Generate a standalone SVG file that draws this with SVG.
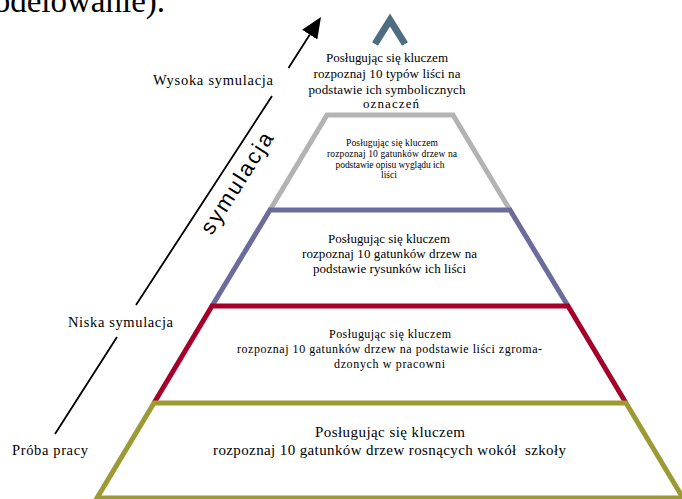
<svg xmlns="http://www.w3.org/2000/svg" width="682" height="499" viewBox="0 0 682 499">
<style>
  .serif { font-family: "Liberation Serif", "Times New Roman", serif; fill: #000; }
  .lbl { font-size: 14.5px; }
  .mid { text-anchor: middle; }
  .tier { fill: none; stroke-width: 5; stroke-linejoin: miter; stroke-linecap: butt; }
  .t13 { font-size: 13px; }
  .t10 { font-size: 9.5px; }
  .t12 { font-size: 12px; }
  .t15 { font-size: 15px; }
</style>
<defs>
  <marker id="arrowhead" markerUnits="userSpaceOnUse" markerWidth="22" markerHeight="18" viewBox="0 0 22 18" refX="0" refY="9" orient="auto">
    <path d="M0,0 L21,9 L0,18 z" fill="#000"/>
  </marker>
</defs>
<rect width="682" height="499" fill="#fff"/>

<g id="title">
  <text class="serif" x="-32" y="12" font-size="33">modelowanie).</text>
</g>

<g id="connectors">
  <path d="M55,434 L117,337 M136,305 L272,96 M288.5,68 L309.7,34.7" fill="none" stroke="#000" stroke-width="1.8" marker-end="url(#arrowhead)"/>
</g>

<g id="label-symulacja">
  <text x="0" y="0" transform="translate(243,187) rotate(-57.5)" font-family="'Liberation Sans', Arial, sans-serif" font-size="22" text-anchor="middle" textLength="116" lengthAdjust="spacing">symulacja</text>
</g>
<g id="label-wysoka">
  <text class="serif lbl" x="153" y="85" textLength="120" lengthAdjust="spacing">Wysoka symulacja</text>
</g>
<g id="label-niska">
  <text class="serif lbl" x="68" y="327" textLength="105" lengthAdjust="spacing">Niska symulacja</text>
</g>
<g id="label-proba">
  <text class="serif lbl" x="12" y="455" textLength="76" lengthAdjust="spacing">Próba pracy</text>
</g>

<g id="apex">
  <polyline points="375,44 390,20 405,44" fill="none" stroke="#4d6e80" stroke-width="7" stroke-linejoin="miter"/>
  <g class="serif t13 mid">
    <text x="387" y="62" textLength="122" lengthAdjust="spacing">Posługując się kluczem</text>
    <text x="387" y="78" textLength="147" lengthAdjust="spacing">rozpoznaj 10 typów liści na</text>
    <text x="387" y="94" textLength="157" lengthAdjust="spacing">podstawie ich symbolicznych</text>
    <text x="391" y="108" textLength="56" lengthAdjust="spacing">oznaczeń</text>
  </g>
</g>

<g id="tier-2">
  <polyline class="tier" points="270,210 327,115 453,115 510,210" stroke="#b3b3b3"/>
  <g class="serif t10 mid">
    <text x="392" y="146" textLength="92" lengthAdjust="spacing">Posługując się kluczem</text>
    <text x="392" y="157" textLength="130" lengthAdjust="spacing">rozpoznaj 10 gatunków drzew na</text>
    <text x="390" y="168" textLength="109" lengthAdjust="spacing">podstawie opisu wyglądu ich</text>
    <text x="389" y="178" textLength="16" lengthAdjust="spacing">liści</text>
  </g>
</g>

<g id="tier-3">
  <polyline class="tier" points="212,306 270,210 510,210 568,306" stroke="#6b6b9c"/>
  <g class="serif t13 mid">
    <text x="389" y="243" textLength="122" lengthAdjust="spacing">Posługując się kluczem</text>
    <text x="389.5" y="258" textLength="175" lengthAdjust="spacing">rozpoznaj 10 gatunków drzew na</text>
    <text x="389.5" y="273" textLength="153" lengthAdjust="spacing">podstawie rysunków ich liści</text>
  </g>
</g>

<g id="tier-4">
  <polyline class="tier" points="154,403 212,306 568,306 626,403" stroke="#a5002a"/>
  <g class="serif t12 mid">
    <text x="390" y="338" textLength="122" lengthAdjust="spacing">Posługując się kluczem</text>
    <text x="389.5" y="353" textLength="305" lengthAdjust="spacing">rozpoznaj 10 gatunków drzew na podstawie liści zgroma-</text>
    <text x="389.5" y="368" textLength="111" lengthAdjust="spacing">dzonych w pracowni</text>
  </g>
</g>

<g id="tier-5">
  <polygon class="tier" points="97,498 154,403 626,403 683,498" stroke="#9c9a35"/>
  <g class="serif t15 mid">
    <text x="390" y="437" textLength="150" lengthAdjust="spacing">Posługując się kluczem</text>
    <text x="389.5" y="455" textLength="353" lengthAdjust="spacing" style="white-space:pre">rozpoznaj 10 gatunków drzew rosnących wokół  szkoły</text>
  </g>
</g>
</svg>
